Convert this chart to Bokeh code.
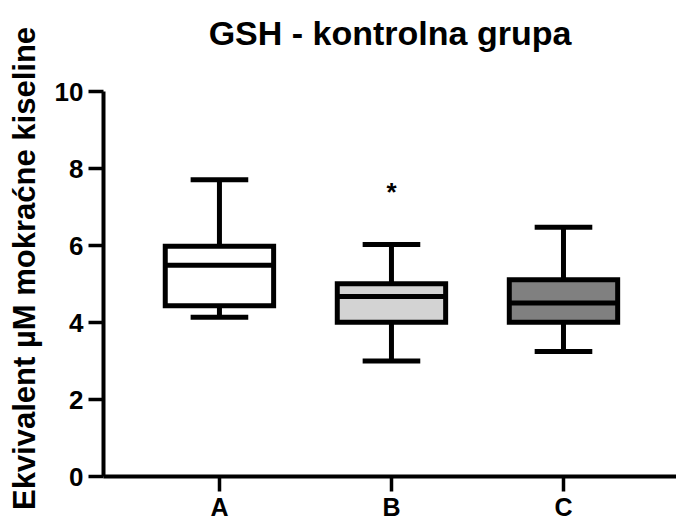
from bokeh.plotting import figure
from bokeh.models import Range1d, FixedTicker, ColumnDataSource
from bokeh.embed import file_html
from bokeh.resources import INLINE
from bokeh.core.properties import value

# ---- data ----
title_text = "GSH - kontrolna grupa"
y_label = "Ekvivalent µM mokraćne kiseline"
categories = ["A", "B", "C"]
whisker_low = [4.14, 3.00, 3.25]
q1 = [4.44, 4.01, 4.01]
median = [5.49, 4.68, 4.51]
q3 = [5.98, 5.01, 5.11]
whisker_high = [7.71, 6.03, 6.48]
fills = ["#ffffff", "#d3d3d3", "#808080"]
y_ticks = [0, 2, 4, 6, 8, 10]
star_category = "B"
star_y = 7.4

FONT = "Liberation Sans"
BOX_W = 0.63
CAP_W = 0.335
Y_HEADROOM = 0.81   # empty space above the axis end, under the title

pos = [i + 0.5 for i in range(len(categories))]
src = ColumnDataSource(dict(
    x=pos, lo=whisker_low, q1=q1, med=median, q3=q3, hi=whisker_high, fill=fills,
    bx0=[x - BOX_W / 2 for x in pos], bx1=[x + BOX_W / 2 for x in pos],
    cx0=[x - CAP_W / 2 for x in pos], cx1=[x + CAP_W / 2 for x in pos],
))

p = figure(width=676, height=523, output_backend="svg", toolbar_location=None,
           x_range=Range1d(-0.174, 3.157),
           y_range=Range1d(y_ticks[0], y_ticks[-1] + Y_HEADROOM),
           min_border_left=103, min_border_right=0, min_border_top=60,
           min_border_bottom=47)

p.title.text = title_text
p.title.align = "center"
p.title.text_font = FONT
p.title.text_font_size = "34px"
p.title.text_font_style = "bold"
p.title.text_color = "black"
p.title.standoff = 18

# whiskers
p.segment(x0="x", y0="q3", x1="x", y1="hi", source=src, line_color="black",
          line_width=5, line_cap="butt")
p.segment(x0="x", y0="lo", x1="x", y1="q1", source=src, line_color="black",
          line_width=5, line_cap="butt")
# caps
p.segment(x0="cx0", y0="hi", x1="cx1", y1="hi", source=src, line_color="black",
          line_width=5, line_cap="butt")
p.segment(x0="cx0", y0="lo", x1="cx1", y1="lo", source=src, line_color="black",
          line_width=5, line_cap="butt")
# boxes
p.vbar(x="x", bottom="q1", top="q3", width=BOX_W, source=src, fill_color="fill",
       line_color="black", line_width=5, line_join="miter")
# medians
p.segment(x0="bx0", y0="med", x1="bx1", y1="med", source=src, line_color="black",
          line_width=5, line_cap="butt")

# significance asterisk
p.text(x=[pos[categories.index(star_category)]], y=[star_y], text=["*"],
       text_font=value(FONT), text_font_style="bold", text_font_size="26px",
       text_align="center", text_baseline="middle", text_color="black")

# axes
p.xaxis.ticker = FixedTicker(ticks=pos)
p.xaxis.major_label_overrides = {x: c for x, c in zip(pos, categories)}
p.yaxis.ticker = FixedTicker(ticks=y_ticks)
p.yaxis.bounds = (y_ticks[0], y_ticks[-1])
p.yaxis.axis_label = y_label

for ax in (p.xaxis[0], p.yaxis[0]):
    ax.axis_line_width = 4
    ax.axis_line_color = "black"
    ax.major_tick_line_width = 3.5
    ax.major_tick_line_color = "black"
    ax.major_tick_out = 15
    ax.major_tick_in = 0
    ax.minor_tick_line_color = None
    ax.major_label_text_font = FONT
    ax.major_label_text_font_style = "bold"
    ax.major_label_text_color = "black"

p.xaxis.major_label_text_font_size = "25px"
p.yaxis.major_label_text_font_size = "26px"
p.xaxis.major_label_standoff = 1
p.yaxis.major_label_standoff = 5
p.yaxis.axis_label_text_font = FONT
p.yaxis.axis_label_text_font_style = "bold"
p.yaxis.axis_label_text_font_size = "31px"
p.yaxis.axis_label_text_color = "black"
p.yaxis.axis_label_standoff = 10

p.xgrid.grid_line_color = None
p.ygrid.grid_line_color = None
p.outline_line_color = None
p.background_fill_color = "white"
p.border_fill_color = "white"

open("out.html", "w").write(file_html(p, INLINE))
